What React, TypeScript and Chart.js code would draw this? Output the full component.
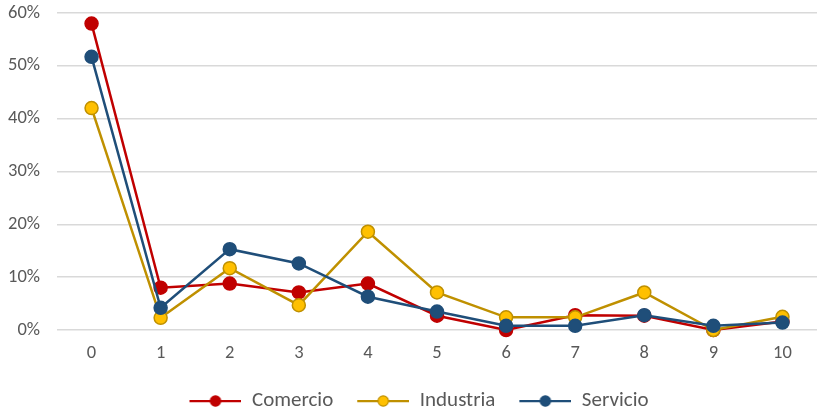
import React, { useEffect, useRef } from "react";
import { Chart, registerables } from "chart.js";

Chart.register(...registerables);

const categories = ["0", "1", "2", "3", "4", "5", "6", "7", "8", "9", "10"];
const comercio = [58, 8.0, 8.8, 7.1, 8.8, 2.7, 0, 2.8, 2.7, 0, 1.6];
const industria = [42, 2.3, 11.7, 4.7, 18.6, 7.1, 2.4, 2.4, 7.1, 0, 2.5];
const servicio = [51.7, 4.2, 15.3, 12.6, 6.3, 3.5, 0.8, 0.8, 2.8, 0.8, 1.4];
const seriesNames = ["Comercio", "Industria", "Servicio"];
const yMax = 60;
const yStep = 10;

const FONT = "Carlito, Calibri, Lato, 'Open Sans', sans-serif";

const styles = [
  { line: "#C00000", fill: "#C00000", border: "#C00000" },
  { line: "#BF9000", fill: "#FFC000", border: "#BF9000" },
  { line: "#1F4E79", fill: "#1F4E79", border: "#1F4E79" },
];

const LEG_GAP = 21;
const LEG_LINE = 52;

function makeLegendImage(s: { line: string; fill: string; border: string }) {
  const c = document.createElement("canvas");
  c.width = LEG_GAP + LEG_LINE;
  c.height = 14;
  const ctx = c.getContext("2d")!;
  ctx.strokeStyle = s.line;
  ctx.lineWidth = 2.25;
  ctx.beginPath();
  ctx.moveTo(LEG_GAP, 7);
  ctx.lineTo(LEG_GAP + LEG_LINE, 7);
  ctx.stroke();
  ctx.beginPath();
  ctx.arc(LEG_GAP + LEG_LINE / 2, 7, 5.2, 0, Math.PI * 2);
  ctx.fillStyle = s.fill;
  ctx.fill();
  ctx.lineWidth = 1.2;
  ctx.strokeStyle = s.border;
  ctx.stroke();
  return c;
}

export default function App() {
  const ref = useRef<HTMLCanvasElement | null>(null);

  useEffect(() => {
    if (!ref.current) return;
    const series = [comercio, industria, servicio];
    const images = styles.map(makeLegendImage);
    const chart = new Chart(ref.current, {
      type: "line",
      data: {
        labels: categories,
        datasets: series.map((d, i) => ({
          label: seriesNames[i],
          data: d,
          borderColor: styles[i].line,
          backgroundColor: styles[i].fill,
          pointBackgroundColor: styles[i].fill,
          pointBorderColor: styles[i].border,
          pointBorderWidth: 1.5,
          pointRadius: 6.5,
          borderWidth: 2.5,
          tension: 0,
          clip: false,
          order: 3 - i,
        })),
      },
      options: {
        responsive: false,
        animation: false,
        layout: {
          autoPadding: false,
          padding: { top: 13, left: 0, right: 0, bottom: -8.5 },
        },
        scales: {
          x: {
            offset: true,
            grid: { display: false, drawTicks: false, offset: true },
            border: { display: false },
            ticks: {
              color: "#595959",
              font: { family: FONT, size: 18.5 },
              padding: 12,
              maxRotation: 0,
            },
            afterFit: (s: any) => {
              s.height = 57.5;
              s.paddingLeft = 0;
              s.paddingRight = 0;
            },
          },
          y: {
            min: 0,
            max: yMax,
            grid: {
              color: "#D9D9D9",
              lineWidth: 1.5,
              drawTicks: true,
              tickLength: 17,
              tickColor: "rgba(0,0,0,0)",
            },
            border: { display: false },
            ticks: {
              stepSize: yStep,
              color: "#595959",
              font: { family: FONT, size: 18.5 },
              padding: 0,
              callback: (v: any) => v + "%",
            },
            afterFit: (s: any) => {
              s.width = 57;
            },
          },
        },
        plugins: {
          tooltip: { enabled: false },
          legend: {
            position: "bottom",
            labels: {
              usePointStyle: true,
              pointStyleWidth: LEG_GAP + LEG_LINE,
              padding: 3,
              color: "#595959",
              font: { family: FONT, size: 21 },
              sort: (a: any, b: any) => a.datasetIndex - b.datasetIndex,
              generateLabels: (ch: any) =>
                ch.data.datasets.map((ds: any, i: number) => ({
                  text: ds.label,
                  datasetIndex: i,
                  pointStyle: images[i],
                  fillStyle: styles[i].fill,
                  strokeStyle: styles[i].line,
                  lineWidth: 0,
                  hidden: false,
                  fontColor: "#595959",
                })),
            },
          },
        },
      },
    } as any);
    return () => chart.destroy();
  }, []);

  return (
    <div style={{ position: "absolute", left: 0, top: 0, width: 817, height: 413 }}>
      <canvas ref={ref} width={817} height={413} />
    </div>
  );
}
